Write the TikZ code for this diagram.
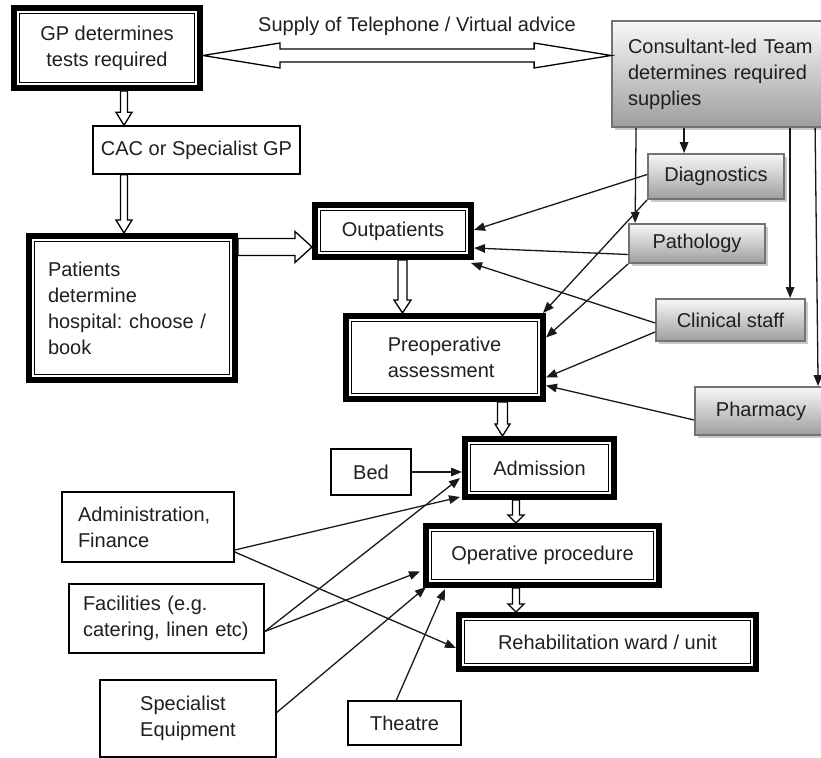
\documentclass[tikz,border=0pt]{standalone}
\usepackage{fontspec}
\setmainfont{Liberation Sans}
\usetikzlibrary{arrows.meta,calc,shadows}
\frenchspacing

\tikzset{
  base/.style={font=\fontsize{20pt}{26pt}\selectfont, text=black!88, inner sep=0pt},
  heavybox/.style={base, draw=black, line width=1.3pt, fill=white, outer sep=8.5pt,
    preaction={draw=black, line width=17pt},
    preaction={draw=white, line width=5pt}},
  plainbox/.style={base, draw=black, line width=1.5pt, fill=white, outer sep=0.75pt},
  greybox/.style={base, draw=black!55, line width=1.8pt, top color=black!3,
    bottom color=black!38, outer sep=0.9pt,
    drop shadow={shadow xshift=2.5pt, shadow yshift=-2.5pt, fill=black!35, opacity=0.6}},
  feed/.style={line width=1.3pt, black!90, -{Triangle[length=11pt,width=8.5pt]}},
  blockarrow/.style={draw=black, line width=1.3pt, fill=white, line join=miter},
}

% hollow block arrows: position, from anchor, to anchor, shaft half width, head half width, head length
\newcommand\blockdown[6]{%
  \draw[blockarrow] let \p1=(#2), \p2=(#3), \p3=(#1,0) in
    (\x3-#4pt,\y1) -- (\x3-#4pt,\y2+#6pt) -- (\x3-#5pt,\y2+#6pt) -- (\x3,\y2)
    -- (\x3+#5pt,\y2+#6pt) -- (\x3+#4pt,\y2+#6pt) -- (\x3+#4pt,\y1) -- cycle;}
\newcommand\blockright[6]{%
  \draw[blockarrow] let \p1=(#2), \p2=(#3), \p3=(0,#1) in
    (\x1,\y3+#4pt) -- (\x2-#6pt,\y3+#4pt) -- (\x2-#6pt,\y3+#5pt) -- (\x2,\y3)
    -- (\x2-#6pt,\y3-#5pt) -- (\x2-#6pt,\y3-#4pt) -- (\x1,\y3-#4pt) -- cycle;}
\newcommand\blockboth[6]{%
  \draw[blockarrow] let \p1=(#2), \p2=(#3), \p3=(0,#1) in
    (\x1,\y3) -- (\x1+#6pt,\y3+#5pt) -- (\x1+#6pt,\y3+#4pt) -- (\x2-#6pt,\y3+#4pt)
    -- (\x2-#6pt,\y3+#5pt) -- (\x2,\y3) -- (\x2-#6pt,\y3-#5pt) -- (\x2-#6pt,\y3-#4pt)
    -- (\x1+#6pt,\y3-#4pt) -- (\x1+#6pt,\y3-#5pt) -- cycle;}

\begin{document}
\begin{tikzpicture}[x=1pt,y=-1pt]
  \useasboundingbox (0,0) rectangle (821,757);
  \clip (0,0) rectangle (821,757);
  \fill[white] (0,0) rectangle (821,757);

  % main pathway
  \node[heavybox, minimum width=175pt, minimum height=69pt, align=center] (gp) at (107,48) {GP determines\\tests required};
  \node[plainbox, minimum width=207pt, minimum height=48pt] (cac) at (196.5,150) {CAC or Specialist GP};
  \node[heavybox, text width=168pt, inner xsep=13.5pt, minimum height=133pt, align=left] (patients) at (132,308) {Patients\\determine\\hospital: choose /\\book};
  \node[heavybox, minimum width=145pt, minimum height=41pt] (outp) at (393,231) {Outpatients};
  \node[heavybox, minimum width=186pt, minimum height=72pt, align=left] (preop) at (444.5,357.5) {Preoperative\\assessment};
  \node[heavybox, minimum width=138pt, minimum height=47pt] (adm) at (539.5,468) {Admission};
  \node[heavybox, minimum width=222pt, minimum height=48pt] (oper) at (542.5,555.5) {Operative procedure};
  \node[heavybox, minimum width=286pt, minimum height=43pt] (rehab) at (607.5,642) {Rehabilitation ward / unit};

  % consultant-led supplies
  \node[greybox, text width=191pt, inner xsep=16pt, minimum height=106pt, align=left] (cons) at (723.5,74) {Consultant-led Team\\determines required\\supplies};
  \node[greybox, minimum width=136pt, minimum height=45pt] (diag) at (716,176.5) {Diagnostics};
  \node[greybox, minimum width=136pt, minimum height=39pt] (patho) at (697,243.5) {Pathology};
  \node[greybox, minimum width=149pt, minimum height=42pt] (clin) at (730.5,320) {Clinical staff};
  \node[greybox, minimum width=132pt, minimum height=48pt] (pharm) at (761,411) {Pharmacy};

  % hospital resources
  \node[plainbox, minimum width=80pt, minimum height=46pt] (bed) at (371,472) {Bed};
  \node[plainbox, text width=140pt, inner xsep=16pt, minimum height=70pt, align=left] (admin) at (148,527) {Administration,\\Finance};
  \node[plainbox, text width=167pt, inner xsep=14pt, minimum height=69pt, align=left] (facil) at (166.5,618.5) {Facilities (e.g.\\catering, linen etc)};
  \node[plainbox, minimum width=176pt, minimum height=77pt, align=left] (equip) at (188,718.5) {Specialist\\Equipment};
  \node[plainbox, minimum width=113pt, minimum height=44pt] (theatre) at (404.5,723) {Theatre};

  % telephone / virtual advice link
  \node[base] (supply) at (417,26) {Supply of Telephone / Virtual advice};
  \blockboth{55.5}{gp.east}{cons.west}{6.5}{12.5}{77}

  % hollow flow arrows
  \blockdown{124}{gp.south}{cac.north}{3.5}{8}{13}
  \blockdown{124}{cac.south}{patients.north}{3.5}{8}{13}
  \blockright{247}{patients.east}{outp.west}{8.5}{15.5}{17}
  \blockdown{402.5}{outp.south}{preop.north}{4.5}{8.5}{13}
  \blockdown{502.5}{preop.south}{adm.north}{5}{7.5}{12}
  \blockdown{516}{adm.south}{oper.north}{3.5}{8}{8}
  \blockdown{516}{oper.south}{rehab.north}{3.5}{8}{8}

  % supplies from the consultant-led team
  \draw[feed] ($(cons.south west)+(73,0)$) -- ($(diag.north west)+(37,0)$);
  \draw[feed] ($(cons.south west)+(25,0)$) -- ($(patho.north west)+(7,0)$);
  \draw[feed] ($(cons.south west)+(179,0)$) -- ($(clin.north west)+(135,0)$);
  \draw[feed] ($(cons.south west)+(204,0)$) -- ($(pharm.north west)+(124,0)$);

  \draw[feed] ($(diag.west)+(0,-2)$) -- ($(outp.east)+(0,-1)$);
  \draw[feed] (diag.south west) -- ($(preop.north east)+(-3,0)$);
  \draw[feed] ($(patho.west)+(0,11)$) -- ($(outp.east)+(0,17)$);
  \draw[feed] (patho.south west) -- ($(preop.east)+(0,-20)$);
  \draw[feed] ($(clin.west)+(0,3)$) -- ($(outp.south east)+(-3,3)$);
  \draw[feed] ($(clin.west)+(0,12)$) -- ($(preop.east)+(0,20)$);
  \draw[feed] ($(pharm.west)+(0,9)$) -- ($(preop.east)+(0,28)$);

  % resources feeding the admission and operation
  \draw[feed] (bed.east) -- (bed.east -| adm.west);
  \draw[feed] ($(admin.east)+(0,23)$) -- ($(adm.south west)+(-2,-3)$);
  \draw[feed] ($(admin.east)+(0,25)$) -- ($(rehab.west)+(0,6)$);
  \draw[feed] ($(facil.east)+(0,13)$) -- ($(adm.south west)+(-2,-22)$);
  \draw[feed] ($(facil.east)+(0,13)$) -- ($(oper.west)+(-3,16)$);
  \draw[feed] ($(equip.east)+(0,-6)$) -- ($(oper.south west)+(3,-1)$);
  \draw[feed] ($(theatre.north west)+(49,0)$) -- ($(oper.south west)+(22,1)$);
\end{tikzpicture}
\end{document}
